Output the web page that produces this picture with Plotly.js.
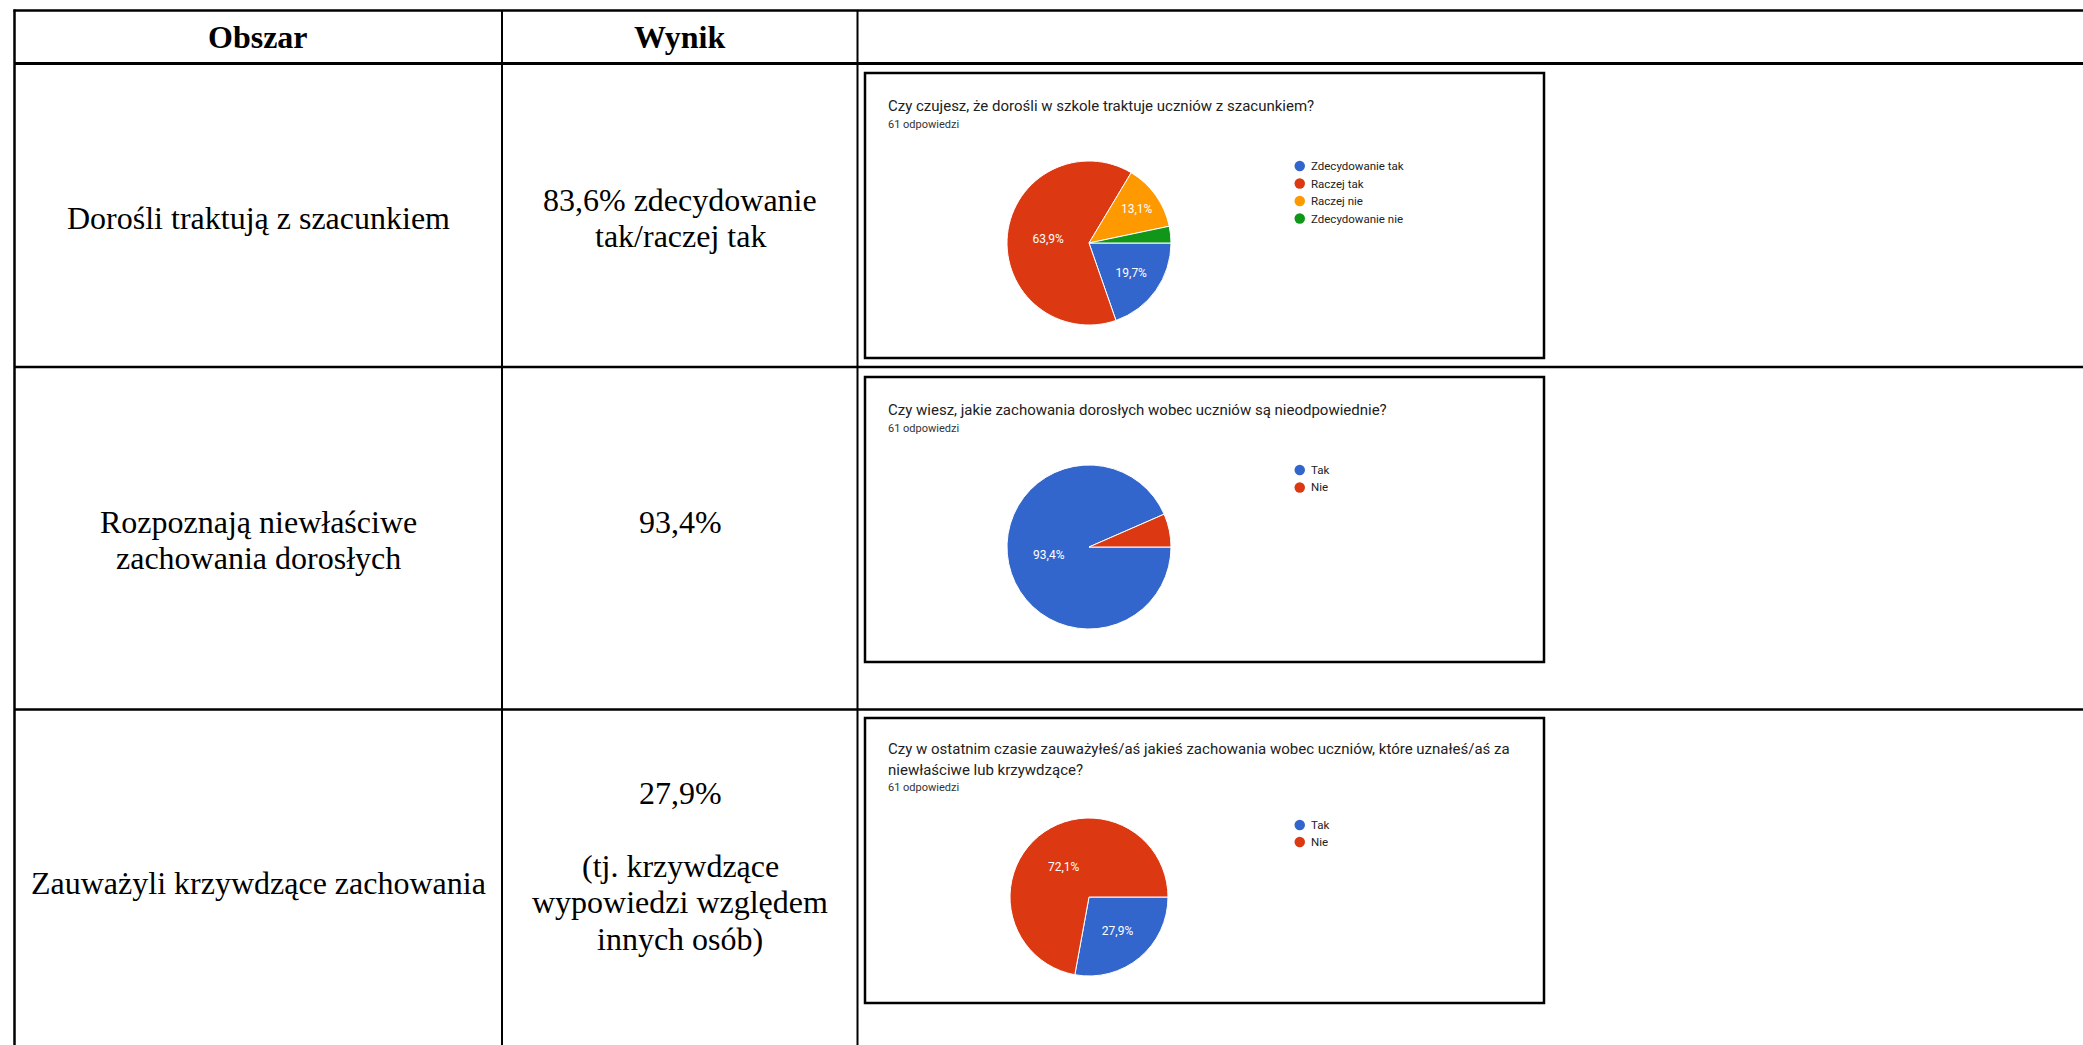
<!DOCTYPE html>
<html>
<head>
<meta charset="utf-8">
<script src="https://cdn.plot.ly/plotly-3.0.1.min.js"></script>
<style>
  html, body { margin: 0; padding: 0; background: #fff; }
  #chart { width: 2083px; height: 1045px; }
</style>
</head>
<body>
<div id="chart"></div>
<script>
// ---------- data ----------
const headers = ["Obszar", "Wynik"];
const areaLines = [
  ["Dorośli traktują z szacunkiem"],
  ["Rozpoznają niewłaściwe", "zachowania dorosłych"],
  ["Zauważyli krzywdzące zachowania"]
];
const resultLines = [
  ["83,6% zdecydowanie", "tak/raczej tak"],
  ["93,4%"],
  ["27,9%", "", "(tj. krzywdzące", "wypowiedzi względem", "innych osób)"]
];

const q1Title = ["Czy czujesz, że dorośli w szkole traktuje uczniów z szacunkiem?"];
const q1Labels = ["Zdecydowanie tak", "Raczej tak", "Raczej nie", "Zdecydowanie nie"];
const q1Values = [12, 39, 8, 2];
const q1Colors = ["#3366cc", "#dc3912", "#ff9900", "#109618"];
const q1ShowPct = [true, true, true, false];

const q2Title = ["Czy wiesz, jakie zachowania dorosłych wobec uczniów są nieodpowiednie?"];
const q2Labels = ["Tak", "Nie"];
const q2Values = [57, 4];
const q2Colors = ["#3366cc", "#dc3912"];
const q2ShowPct = [true, false];

const q3Title = ["Czy w ostatnim czasie zauważyłeś/aś jakieś zachowania wobec uczniów, które uznałeś/aś za",
                 "niewłaściwe lub krzywdzące?"];
const q3Labels = ["Tak", "Nie"];
const q3Values = [17, 44];
const q3Colors = ["#3366cc", "#dc3912"];
const q3ShowPct = [true, true];

const responsesText = "61 odpowiedzi";

// ---------- layout helpers (pixel -> paper) ----------
const W = 2083, H = 1045;
const X = x => x / W;
const Y = y => 1 - y / H;

const shapes = [];
const annotations = [];

function hLine(y, x0, x1, w) {
  shapes.push({type: 'line', xref: 'paper', yref: 'paper', x0: X(x0), x1: X(x1), y0: Y(y), y1: Y(y),
    line: {color: '#000', width: w}});
}
function vLine(x, y0, y1, w) {
  shapes.push({type: 'line', xref: 'paper', yref: 'paper', x0: X(x), x1: X(x), y0: Y(y0), y1: Y(y1),
    line: {color: '#000', width: w}});
}
function rect(x0, y0, x1, y1, w) {
  shapes.push({type: 'rect', xref: 'paper', yref: 'paper', x0: X(x0), x1: X(x1), y0: Y(y0), y1: Y(y1),
    line: {color: '#000', width: w}, fillcolor: 'rgba(0,0,0,0)'});
}
function text(t, x, y, opts) {
  annotations.push(Object.assign({
    text: t, xref: 'paper', yref: 'paper', x: X(x), y: Y(y), showarrow: false,
    xanchor: 'center', yanchor: 'middle', borderpad: 0,
    font: {family: 'Liberation Serif, Times New Roman, serif', size: 32, color: '#000'}
  }, opts || {}));
}

// ---------- table grid ----------
const tableTop = 10.5, tableLeft = 14.5;
const colDiv = [502, 857.5];
const rowDiv = [63.5, 367, 709.5];
hLine(tableTop, tableLeft - 1, W + 5, 2.5);
vLine(tableLeft, tableTop - 1, H + 5, 2.5);
colDiv.forEach(x => vLine(x, tableTop, H + 5, 2));
hLine(rowDiv[0], tableLeft, W + 5, 3);
hLine(rowDiv[1], tableLeft, W + 5, 2.5);
hLine(rowDiv[2], tableLeft, W + 5, 2.5);

// header
text('<b>' + headers[0] + '</b>', 258, 37);
text('<b>' + headers[1] + '</b>', 680, 37);

// cell text
const lineGap = 36.4;
const areaStart = [218, 522, 883];
const resStart = [200, 522, 793];
areaLines.forEach((lines, r) => lines.forEach((l, i) => { if (l) text(l, 258, areaStart[r] + i * lineGap); }));
resultLines.forEach((lines, r) => lines.forEach((l, i) => { if (l) text(l, 680, resStart[r] + i * lineGap); }));

// ---------- Google-forms style chart panels ----------
const panels = [
  {title: q1Title, labels: q1Labels, values: q1Values, colors: q1Colors, show: q1ShowPct,
   box: [865, 73, 1544, 358], titleY: 106, subY: 125, legY: 166, legStep: 17.5, cy: 243, r: 82},
  {title: q2Title, labels: q2Labels, values: q2Values, colors: q2Colors, show: q2ShowPct,
   box: [865, 377, 1544, 662], titleY: 410, subY: 429, legY: 470, legStep: 17.5, cy: 547, r: 82},
  {title: q3Title, labels: q3Labels, values: q3Values, colors: q3Colors, show: q3ShowPct,
   box: [865, 718, 1544, 1003], titleY: 749, subY: 787, legY: 825, legStep: 17, cy: 897, r: 79}
];

const traces = [];
const pieCx = 1089;
panels.forEach(p => {
  rect(p.box[0], p.box[1], p.box[2], p.box[3], 2.5);
  p.title.forEach((t, i) => text(t, 887, p.titleY + i * 20.5,
    {xanchor: 'left', font: {family: 'Roboto, sans-serif', size: 15, color: '#212121'}}));
  text(responsesText, 887, p.subY,
    {xanchor: 'left', font: {family: 'Roboto, sans-serif', size: 11, color: '#333'}});
  // legend (circle markers like Google Charts)
  p.labels.forEach((lab, i) => {
    const ly = p.legY + i * p.legStep;
    shapes.push({type: 'circle', xref: 'paper', yref: 'paper',
      x0: X(1294.5), x1: X(1305), y0: Y(ly - 5.2), y1: Y(ly + 5.2),
      line: {width: 0}, fillcolor: p.colors[i]});
    text(lab, 1310, ly, {xanchor: 'left', font: {family: 'Roboto, sans-serif', size: 11.5, color: '#222'}});
  });
  traces.push({
    type: 'pie',
    labels: p.labels,
    values: p.values,
    sort: false,
    direction: 'clockwise',
    rotation: 90,
    marker: {colors: p.colors, line: {color: '#ffffff', width: 1}},
    texttemplate: p.show.map(s => s ? '%{percent:.1%}' : ''),
    textposition: 'inside',
    insidetextorientation: 'horizontal',
    textfont: {family: 'Roboto, sans-serif', size: 12, color: '#ffffff'},
    hoverinfo: 'label+value+percent',
    showlegend: false,
    domain: {x: [X(pieCx - p.r), X(pieCx + p.r)], y: [Y(p.cy + p.r), Y(p.cy - p.r)]}
  });
});

const layout = {
  width: W, height: H,
  margin: {l: 0, r: 0, t: 0, b: 0},
  paper_bgcolor: '#ffffff',
  plot_bgcolor: '#ffffff',
  separators: ', ',
  showlegend: false,
  shapes: shapes,
  annotations: annotations
};

Plotly.newPlot('chart', traces, layout, {staticPlot: true, displayModeBar: false});
</script>
</body>
</html>
